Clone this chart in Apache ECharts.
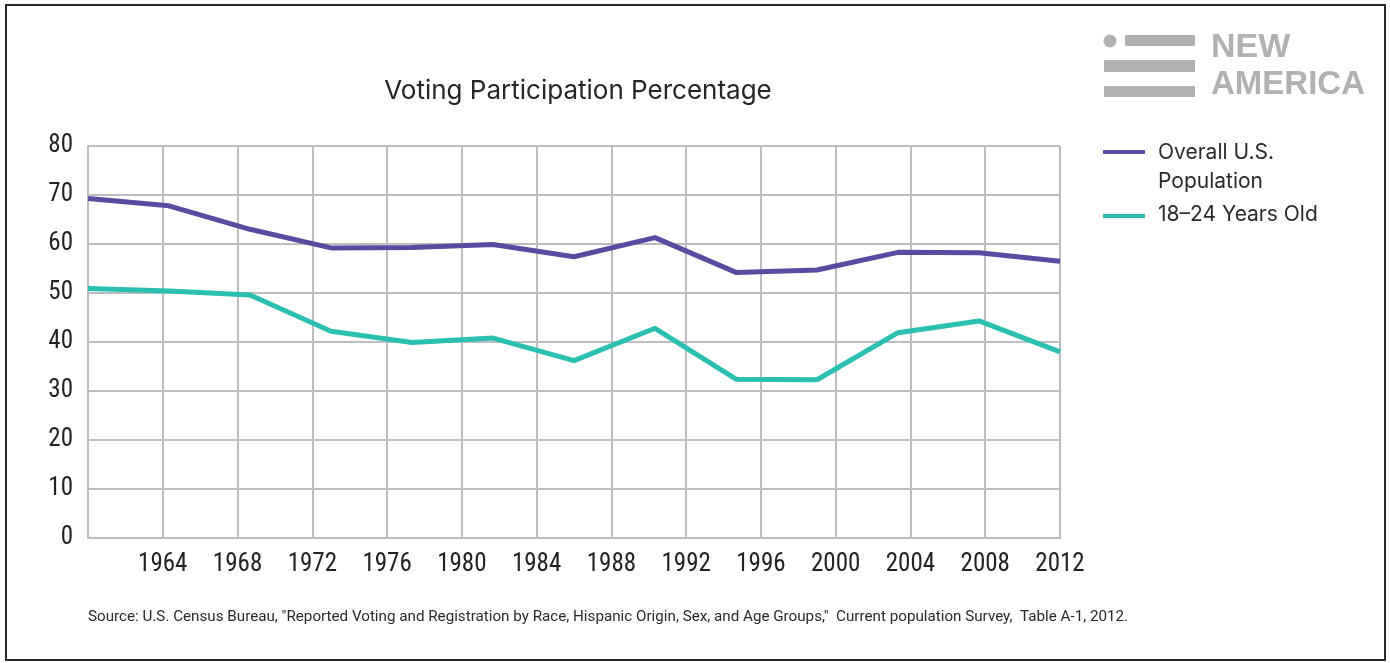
<!DOCTYPE html>
<html>
<head>
<meta charset="utf-8">
<script src="https://cdn.jsdelivr.net/npm/echarts@6/dist/echarts.min.js"></script>
<style>
  html, body { margin: 0; padding: 0; background: #fff; }
  #chart { width: 1390px; height: 663px; }
</style>
</head>
<body>
<div id="chart"></div>
<script>
// Presidential election years (data points)
const electionYears = ['1964', '1968', '1972', '1976', '1980', '1984', '1988', '1992', '1996', '2000', '2004', '2008', '2012'];
// Percent of population that voted
const overallPopulation = [69.3, 67.8, 63.0, 59.2, 59.3, 59.9, 57.4, 61.3, 54.2, 54.7, 58.3, 58.2, 56.5];
const youth18to24 = [50.9, 50.4, 49.6, 42.2, 39.9, 40.8, 36.2, 42.8, 32.4, 32.3, 41.9, 44.3, 38.0];
// Axis ticks
const yearTickMin = 1960, yearTickMax = 2012, yearTickStep = 4;
const pctMin = 0, pctMax = 80, pctStep = 10;

const seriesNames = ['Overall U.S.\nPopulation', '18–24 Years Old'];
const purple = '#574ca1';
const teal = '#2bbfb1';
const gridColor = '#bdbcc1';
const logoGray = '#b2b0b0';
const axisFont = '"Roboto Condensed", "Liberation Sans", sans-serif';
const textFont = 'Inter, "Noto Sans", sans-serif';

const chart = echarts.init(document.getElementById('chart'));

chart.setOption({
  animation: false,
  backgroundColor: '#fff',
  title: {
    text: 'Voting Participation Percentage',
    left: 573,
    textAlign: 'center',
    top: 73,
    textStyle: { fontFamily: textFont, fontWeight: 'normal', fontSize: 26, color: '#262626' }
  },
  grid: { left: 88, right: 330, top: 146, bottom: 125 },
  xAxis: [
    {
      type: 'value',
      min: yearTickMin,
      max: yearTickMax,
      interval: yearTickStep,
      axisLine: { show: true, lineStyle: { color: gridColor, width: 2 } },
      axisTick: { show: false },
      splitLine: { show: true, lineStyle: { color: gridColor, width: 2 } },
      axisLabel: {
        margin: 14,
        fontFamily: axisFont,
        fontSize: 25,
        color: '#222',
        formatter: v => (v === yearTickMin ? '' : String(v))
      }
    },
    {
      type: 'category',
      data: electionYears,
      boundaryGap: false,
      show: false
    }
  ],
  yAxis: {
    type: 'value',
    min: pctMin,
    max: pctMax,
    interval: pctStep,
    axisLine: { show: true, lineStyle: { color: gridColor, width: 2 } },
    axisTick: { show: false },
    splitLine: { show: true, lineStyle: { color: gridColor, width: 2 } },
    axisLabel: { margin: 15, fontFamily: axisFont, fontSize: 25, color: '#222' }
  },
  series: [
    {
      name: seriesNames[0],
      type: 'line',
      xAxisIndex: 1,
      data: overallPopulation,
      showSymbol: false,
      lineStyle: { color: purple, width: 5 },
      itemStyle: { color: purple }
    },
    {
      name: seriesNames[1],
      type: 'line',
      xAxisIndex: 1,
      data: youth18to24,
      showSymbol: false,
      lineStyle: { color: teal, width: 5 },
      itemStyle: { color: teal }
    }
  ],
  graphic: [
    // frame
    { type: 'rect', shape: { x: 6, y: 5, width: 1379, height: 655 }, style: { fill: null, stroke: '#2a2a2a', lineWidth: 2 } },
    // legend
    { type: 'line', shape: { x1: 1103, y1: 152, x2: 1145, y2: 152 }, style: { stroke: purple, lineWidth: 4 } },
    { type: 'text', left: 1158, top: 138, style: { text: seriesNames[0], font: '21px ' + textFont, fill: '#2a2a2a', lineHeight: 29 } },
    { type: 'line', shape: { x1: 1103, y1: 216, x2: 1145, y2: 216 }, style: { stroke: teal, lineWidth: 4 } },
    { type: 'text', left: 1158, top: 204, style: { text: seriesNames[1], font: '21px ' + textFont, fill: '#2a2a2a' } },
    // logo
    { type: 'circle', shape: { cx: 1110, cy: 41, r: 6.5 }, style: { fill: logoGray } },
    { type: 'rect', shape: { x: 1125, y: 35, width: 70, height: 11 }, style: { fill: logoGray } },
    { type: 'rect', shape: { x: 1104, y: 60, width: 91, height: 12 }, style: { fill: logoGray } },
    { type: 'rect', shape: { x: 1104, y: 86, width: 91, height: 11 }, style: { fill: logoGray } },
    { type: 'text', left: 1211, top: 31, style: { text: 'NEW', font: 'bold 34px "Liberation Sans", Arial, sans-serif', fill: logoGray } },
    { type: 'text', left: 1211, top: 68, style: { text: 'AMERICA', font: 'bold 33px "Liberation Sans", Arial, sans-serif', fill: logoGray } },
    // source note
    { type: 'text', left: 88, top: 610, style: { text: 'Source: U.S. Census Bureau, "Reported Voting and Registration by Race, Hispanic Origin, Sex, and Age Groups,"  Current population Survey,  Table A-1, 2012.', font: '15.2px Roboto, sans-serif', fill: '#2a2a2a' } }
  ]
});
</script>
</body>
</html>
